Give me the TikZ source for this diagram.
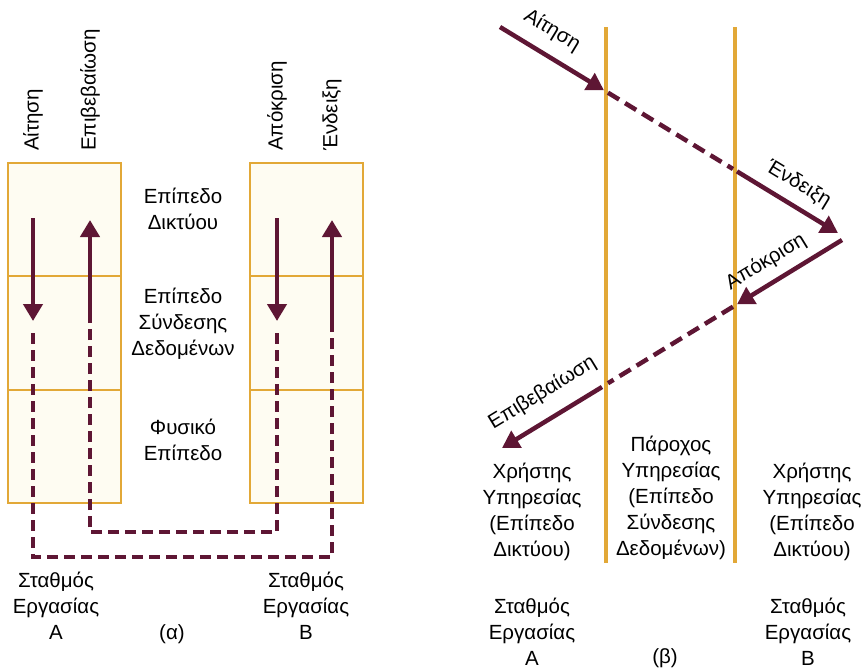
\documentclass[tikz,border=0pt]{standalone}
\usepackage{fontspec}
\setmainfont{Liberation Sans}
\usetikzlibrary{arrows.meta}
\definecolor{wine}{RGB}{94,22,52}
\definecolor{gold}{RGB}{226,168,55}
\definecolor{cream}{RGB}{254,252,242}

\begin{document}
\begin{tikzpicture}[x=1pt,y=-1pt]
\tikzset{
  layer/.style={draw=gold,line width=2pt,fill=cream,minimum width=113pt,
                minimum height=113.3pt,inner sep=0pt},
  txt/.style={align=center,font=\fontsize{20.5}{26}\selectfont,inner sep=2pt},
  vlbl/.style={txt,rotate=90,anchor=west},
  sig/.style={draw=wine,line width=4.5pt,-{Triangle[length=17pt,width=19pt]}},
  link/.style={draw=wine,line width=4.5pt,dash pattern=on 11pt off 6pt},
  hop/.style={draw=wine,line width=4.5pt,dash pattern=on 13pt off 7pt},
  wire/.style={draw=gold,line width=4pt}
}
\useasboundingbox (0,0) rectangle (862,670);

% (a) two stations with three layers each
\node[layer] (a1) at (64,219.7) {};
\node[layer] (a2) at (64,333) {};
\node[layer] (a3) at (64,446.3) {};
\node[layer] (b1) at (306,219.7) {};
\node[layer] (b2) at (306,333) {};
\node[layer] (b3) at (306,446.3) {};
\node[txt] (netlay) at (183,209) {Επίπεδο\\Δικτύου};
\node[txt] (dllay) at (183,324) {Επίπεδο\\Σύνδεσης\\Δεδομένων};
\node[txt] (phylay) at (183,440) {Φυσικό\\Επίπεδο};

\node[vlbl] (req) at (33,153) {Αίτηση};
\node[vlbl] (conf) at (90,153) {Επιβεβαίωση};
\node[vlbl] (resp) at (277,153) {Απόκριση};
\node[vlbl] (ind) at (332,153) {Ένδειξη};

\coordinate (reqA) at (33,218);
\coordinate (reqB) at (33,321);
\coordinate (reqC) at (33,333);
\coordinate (reqD) at (33,557);
\coordinate (indD) at (332,557);
\coordinate (indC) at (332,322);
\coordinate (indA) at (332,220);
\coordinate (respA) at (277,218);
\coordinate (respB) at (277,321);
\coordinate (respC) at (277,333);
\coordinate (respD) at (277,532);
\coordinate (confD) at (90,532);
\coordinate (confC) at (90,322);
\coordinate (confA) at (90,220);
\draw[sig] (reqA) -- (reqB);
\draw[link] (reqC) -- (reqD) -- (indD) -- (indC);
\draw[sig] (indC) -- (indA);
\draw[sig] (respA) -- (respB);
\draw[link] (respC) -- (respD) -- (confD) -- (confC);
\draw[sig] (confC) -- (confA);

\node[txt] (stA) at (56,606) {Σταθμός\\Εργασίας\\A};
\node[txt] (stB) at (306,606) {Σταθμός\\Εργασίας\\B};
\node[txt] (capa) at (172,634) {(α)};

% (b) time sequence
\coordinate (wl1) at (606,27);
\coordinate (wl2) at (606,563);
\coordinate (wr1) at (735,27);
\coordinate (wr2) at (735,563);
\draw[wire] (wl1) -- (wl2);
\draw[wire] (wr1) -- (wr2);

\coordinate (s0) at (500,27);
\coordinate (s1) at (604,90.3);
\coordinate (s2) at (608,92.7);
\coordinate (s3) at (733,169);
\coordinate (s4) at (737,171.4);
\coordinate (s5) at (838,233);
\coordinate (t0) at (842,240);
\coordinate (t1) at (737,304.3);
\coordinate (t2) at (733,306.7);
\coordinate (t3) at (608,383.2);
\coordinate (t4) at (602,387);
\coordinate (t5) at (502,448);
\draw[sig] (s0) -- node[txt,sloped,above=10pt,pos=0.38] (reqb) {Αίτηση} (s1);
\draw[hop] (s2) -- (s3);
\draw[sig] (s4) -- node[txt,sloped,above=7pt,pos=0.5] (indb) {Ένδειξη} (s5);
\draw[sig] (t0) -- node[txt,sloped,above=7pt,pos=0.62] (respb) {Απόκριση} (t1);
\draw[hop] (t2) -- (t3);
\draw[sig] (t4) -- node[txt,sloped,above=12pt,pos=0.46] (confb) {Επιβεβαίωση} (t5);

\node[txt] (userA) at (532,512) {Χρήστης\\Υπηρεσίας\\(Επίπεδο\\Δικτύου)};
\node[txt] (prov) at (671,498) {Πάροχος\\Υπηρεσίας\\(Επίπεδο\\Σύνδεσης\\Δεδομένων)};
\node[txt] (userB) at (812,512) {Χρήστης\\Υπηρεσίας\\(Επίπεδο\\Δικτύου)};
\node[txt] (stbA) at (532,632) {Σταθμός\\Εργασίας\\A};
\node[txt] (stbB) at (808,632) {Σταθμός\\Εργασίας\\B};
\node[txt] (capb) at (665,658) {(β)};
\end{tikzpicture}
\end{document}
